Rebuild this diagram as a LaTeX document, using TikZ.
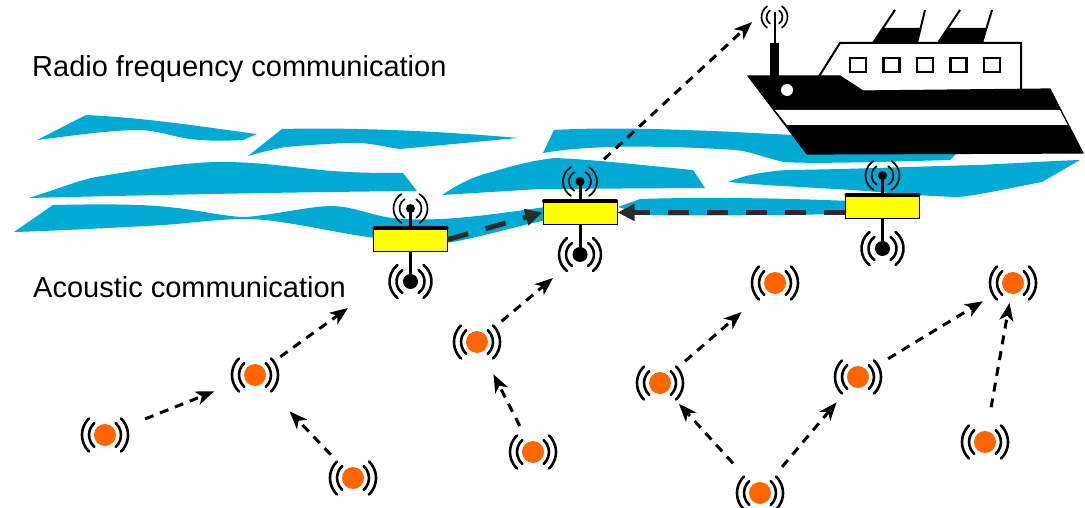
\documentclass[tikz,border=0pt]{standalone}
\usepackage{fontspec}
\setmainfont{Liberation Sans}
\usetikzlibrary{arrows.meta}

\definecolor{sea}{RGB}{0,170,212}
\definecolor{sensorfill}{RGB}{255,102,0}
\definecolor{buoyyellow}{RGB}{255,255,0}
\definecolor{linkgray}{RGB}{42,42,42}

\tikzset{
  lbl/.style={font=\fontsize{29}{34}\selectfont, inner sep=0pt, anchor=base west},
  wave/.style={fill=sea, draw=none},
  sigarc/.style={line width=2.6pt, black, line cap=round},
  thinarc/.style={line width=1.7pt, black, line cap=round},
  sensordot/.style={circle, fill=sensorfill, minimum size=22pt, inner sep=0pt},
  antdot/.style={circle, fill=black, minimum size=9pt, inner sep=0pt},
  sounder/.style={circle, fill=black, minimum size=15pt, inner sep=0pt},
  buoybody/.style={rectangle, fill=buoyyellow, draw=black, line width=1pt,
    minimum width=74pt, minimum height=24pt, inner sep=0pt},
  sensorarrow/.style={line width=3pt, black, dash pattern=on 9pt off 7pt,
    -{Stealth[length=18pt,width=14pt,inset=5pt]}},
  buoylink/.style={line width=5pt, linkgray, dash pattern=on 21pt off 18pt,
    -{Triangle[length=17pt,width=16pt]}},
  % underwater sensor: orange dot with two pairs of signal arcs
  sensornode/.pic={
    \node[sensordot] (-c) at (0,0) {};
    \foreach \r/\a in {16/48, 23/46} {
      \draw[sigarc] (180-\a:\r pt) arc[start angle=180-\a, end angle=180+\a, radius=\r pt];
      \draw[sigarc] (-\a:\r pt) arc[start angle=-\a, end angle=\a, radius=\r pt];
    }
  },
  % surface buoy: yellow float, radio antenna above, acoustic sounder below
  buoy/.pic={
    \draw[line width=3pt] (0,0) -- (0,42);
    \draw[line width=3pt] (0,0) -- (0,-31);
    \node[buoybody] (-body) at (0,0) {};
    \draw[line width=4pt, line cap=round] (-36,-11.5) -- (36,-11.5);
    \node[antdot] (-ant) at (0,-31) {};
    \node[sounder] (-snd) at (0,42) {};
    \foreach \r/\a in {11/58, 17/58} {
      \draw[thinarc] ([shift={(0,-31)}]180-\a:\r pt) arc[start angle=180-\a, end angle=180+\a, radius=\r pt];
      \draw[thinarc] ([shift={(0,-31)}]-\a:\r pt) arc[start angle=-\a, end angle=\a, radius=\r pt];
    }
    \foreach \r/\a in {14/55, 21/52} {
      \draw[sigarc] ([shift={(0,42)}]180-\a:\r pt) arc[start angle=180-\a, end angle=180+\a, radius=\r pt];
      \draw[sigarc] ([shift={(0,42)}]-\a:\r pt) arc[start angle=-\a, end angle=\a, radius=\r pt];
    }
  }
}

\begin{document}
\begin{tikzpicture}[x=1pt, y=-1pt]
\useasboundingbox (0,0) rectangle (1085,508);

% ---- sea surface ----
\fill[wave] (37,140) -- (86,115) .. controls (150,118) and (210,128) .. (257,134)
  -- (243,140) .. controls (225,141) and (205,141) .. (190,139)
  .. controls (170,136) and (160,131) .. (140,130)
  .. controls (110,130) and (70,136) .. (37,140) -- cycle;
\fill[wave] (248,156) -- (282,129) .. controls (360,127) and (450,132) .. (518,138)
  -- (400,149) .. controls (380,146) and (370,143) .. (357,143)
  .. controls (330,143) and (300,146) .. (285,147)
  .. controls (270,150) and (258,153) .. (248,156) -- cycle;
\fill[wave] (29,198) .. controls (60,188) and (80,180) .. (96,177)
  .. controls (150,168) and (190,162) .. (221,162)
  .. controls (260,162) and (290,167) .. (321,170)
  .. controls (350,173) and (380,173) .. (403,173) -- (417,191)
  .. controls (300,192) and (150,195) .. (29,198) -- cycle;
\fill[wave] (14,232) -- (53,205) .. controls (100,204) and (140,204) .. (168,207)
  .. controls (200,210) and (225,217) .. (246,217)
  .. controls (280,214) and (310,206) .. (333,206)
  .. controls (355,207) and (370,215) .. (392,218)
  .. controls (430,222) and (470,218) .. (545,207) -- (546,220)
  .. controls (510,228) and (470,240) .. (445,243)
  .. controls (420,244) and (400,241) .. (375,238)
  .. controls (330,232) and (280,219) .. (246,219)
  .. controls (220,219) and (190,223) .. (164,225)
  .. controls (110,228) and (50,231) .. (14,232) -- cycle;
\fill[wave] (543,153) -- (554,130) .. controls (620,126) and (720,131) .. (791,135)
  -- (960,150) -- (950,160) .. controls (880,162) and (810,164) .. (784,162)
  .. controls (765,158) and (750,151) .. (735,150)
  .. controls (690,147) and (640,146) .. (610,147)
  .. controls (580,148) and (560,150) .. (543,153) -- cycle;
\fill[wave] (442,195) .. controls (460,183) and (475,176) .. (492,172)
  .. controls (515,165) and (535,160) .. (555,158)
  .. controls (600,160) and (650,166) .. (693,170) -- (705,188) -- (540,189) -- cycle;
\fill[wave] (728,182) .. controls (735,179) and (742,177) .. (750,175)
  .. controls (765,172) and (780,170) .. (791,170)
  .. controls (860,169) and (930,166) .. (979,165)
  .. controls (1020,163) and (1050,161) .. (1080,160) -- (1042,182)
  .. controls (1010,188) and (980,195) .. (958,197)
  .. controls (920,196) and (880,192) .. (853,190)
  .. controls (800,187) and (760,185) .. (728,182) -- cycle;
\fill[wave] (618,207) -- (640,199) .. controls (700,197) and (780,198) .. (850,201)
  -- (850,214) .. controls (780,215) and (700,216) .. (645,215) -- cycle;

% ---- ship ----
% funnels
\draw[line width=2pt] (873,43) -- (895,10);
\draw[line width=2pt] (917,43) -- (925,10);
\fill (873,43) -- (883,28) -- (921,28) -- (917,43) -- cycle;
\draw[line width=2pt] (938,43) -- (960,10);
\draw[line width=2pt] (982,43) -- (992,10);
\fill (938,43) -- (948,28) -- (987,28) -- (982,43) -- cycle;
% cabin
\filldraw[fill=white, draw=black, line width=2pt] (818,78) -- (840,43) -- (1021,43) -- (1021,92) -- (860,92) -- cycle;
\foreach \wx in {858,891.5,925,958.5,992}
  \draw[line width=2.5pt, fill=white] (\wx-8,58) rectangle (\wx+8,72);
% hull with white stripe
\fill (748,76) -- (840,76) -- (863,91) -- (1050,89) -- (1083,153) -- (807,154) -- cycle;
\fill[white] (775,110) -- (1060,110) -- (1068,125) -- (787,125) -- cycle;
\draw[line width=1.2pt, line join=round] (748,76) -- (840,76) -- (863,91) -- (1050,89) -- (1083,153) -- (807,154) -- cycle;
% mast, antenna and porthole
\fill (770,43) rectangle (779,77);
\draw[line width=2pt] (774.5,44) -- (774.5,12);
\foreach \r/\a in {8/55, 13/55} {
  \draw[thinarc] ([shift={(774.5,17)}]180-\a:\r pt) arc[start angle=180-\a, end angle=180+\a, radius=\r pt];
  \draw[thinarc] ([shift={(774.5,17)}]-\a:\r pt) arc[start angle=-\a, end angle=\a, radius=\r pt];
}
\fill[white] (787,90) circle[radius=6pt];

% ---- labels ----
\node[lbl] (rf) at (32,77) {Radio frequency communication};
\node[lbl] (ac) at (33,297) {Acoustic communication};

% ---- buoys ----
\pic (b1) at (410.5,239.5) {buoy};
\pic (b2) at (580,212.5) {buoy};
\pic (b3) at (882.5,206.5) {buoy};

\draw[buoylink] (b1-body.east) -- (b2-body.west);
\draw[buoylink] ([yshift=-6pt]b3-body.west) -- (b2-body.east);

\coordinate (shipsig) at (752,22);
\draw[sensorarrow, shorten <=28pt] (b2-ant) -- (shipsig);

% ---- underwater sensors ----
\pic (s1) at (105,435) {sensornode};
\pic (s2) at (255,375) {sensornode};
\pic (s3) at (353,478) {sensornode};
\pic (s4) at (477,342) {sensornode};
\pic (s5) at (533,452) {sensornode};
\pic (s6) at (660,383) {sensornode};
\pic (s7) at (775,283) {sensornode};
\pic (s8) at (760,493) {sensornode};
\pic (s9) at (858,377) {sensornode};
\pic (s10) at (1013,283) {sensornode};
\pic (s11) at (985,442) {sensornode};

\coordinate (upA) at (348,308);
\coordinate (upB) at (553,278);

\draw[sensorarrow, shorten <=32pt, shorten >=33pt] (s1-c) -- (s2-c);
\draw[sensorarrow, shorten <=21pt, shorten >=39pt] (s3-c) -- (s2-c);
\draw[sensorarrow, shorten <=20pt] (s2-c) -- (upA);
\draw[sensorarrow, shorten <=21pt] (s4-c) -- (upB);
\draw[sensorarrow, shorten <=18pt, shorten >=25pt] (s5-c) -- (s4-c);
\draw[sensorarrow, shorten <=29pt, shorten >=17pt] (s8-c) -- (s6-c);
\draw[sensorarrow, shorten <=22pt, shorten >=33pt] (s6-c) -- (s7-c);
\draw[sensorarrow, shorten <=23pt, shorten >=22pt] (s8-c) -- (s9-c);
\draw[sensorarrow, shorten <=24pt, shorten >=24pt] (s9-c) -- (s10-c);
\draw[sensorarrow, shorten <=24pt, shorten >=9pt] (s11-c) -- (s10-c);
\end{tikzpicture}
\end{document}
